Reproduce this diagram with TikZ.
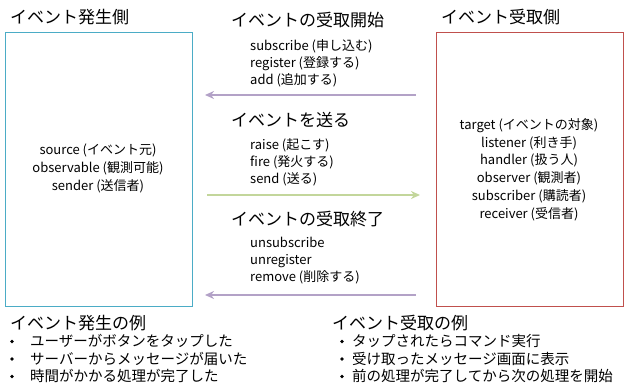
\documentclass[tikz,border=0pt]{standalone}
\usepackage{fontspec}
\setmainfont{Noto Sans CJK JP}
\usetikzlibrary{arrows.meta}
\definecolor{srccol}{RGB}{75,172,198}
\definecolor{rcvcol}{RGB}{192,80,77}
\definecolor{purp}{RGB}{179,162,199}
\definecolor{grn}{RGB}{195,214,155}
\tikzset{
  sidebox/.style={draw=#1, line width=1pt, inner sep=0pt, minimum width=187pt, minimum height=274pt, anchor=north west},
  bigtitle/.style={font=\fontsize{17}{20}\selectfont, inner sep=0pt, anchor=west},
  smalltext/.style={font=\fontsize{13}{17}\selectfont, inner sep=0pt, align=left, anchor=west},
  centertext/.style={font=\fontsize{13}{17.8}\selectfont, inner sep=0pt, align=center},
  itemtext/.style={font=\fontsize{14.5}{17.5}\selectfont, inner sep=0pt, anchor=west},
  bulletmark/.style={circle, fill=black, inner sep=0pt, minimum size=3.6pt},
  flow/.style={line width=2pt, -{Stealth[length=9pt,width=8pt]}},
}
\begin{document}
\begin{tikzpicture}[x=1pt,y=-1pt]
\useasboundingbox (0,0) rectangle (630,390);
% boxes
\node[sidebox=srccol] (src) at (5,32) {};
\node[sidebox=rcvcol] (rcv) at (436,32) {};
% box titles
\node[bigtitle] (srct) at (10,17) {イベント発生側};
\node[bigtitle] (rcvt) at (441,17) {イベント受取側};
% box contents
\node[centertext] (srctext) at (98,168.5) {source (イベント元)\\observable (観測可能)\\sender (送信者)};
\node[centertext] (rcvtext) at (529,169.5) {target (イベントの対象)\\listener (利き手)\\handler (扱う人)\\observer (観測者)\\subscriber (購読者)\\receiver (受信者)};
% middle blocks
\node[bigtitle] (m1t) at (231,20) {イベントの受取開始};
\node[smalltext] (m1) at (250,63) {subscribe (申し込む)\\register (登録する)\\add (追加する)};
\node[bigtitle] (m2t) at (231,120) {イベントを送る};
\node[smalltext] (m2) at (250,162) {raise (起こす)\\fire (発火する)\\send (送る)};
\node[bigtitle] (m3t) at (231,219) {イベントの受取終了};
\node[smalltext] (m3) at (250,261) {unsubscribe\\unregister\\remove (削除する)};
% arrows
\coordinate (a1s) at (416,95);
\coordinate (a1e) at (205,95);
\coordinate (a2s) at (207,195);
\coordinate (a2e) at (420,195);
\coordinate (a3s) at (416,295);
\coordinate (a3e) at (205,295);
\draw[flow, draw=purp] (a1s) -- (a1e);
\draw[flow, draw=grn] (a2s) -- (a2e);
\draw[flow, draw=purp] (a3s) -- (a3e);
% examples
\node[bigtitle] (ex1t) at (10,323) {イベント発生の例};
\node[bulletmark] (b11) at (12,341.5) {};
\node[itemtext] (e11) at (30,341) {ユーザーがボタンをタップした};
\node[bulletmark] (b12) at (12,359) {};
\node[itemtext] (e12) at (30,358.5) {サーバーからメッセージが届いた};
\node[bulletmark] (b13) at (12,376.5) {};
\node[itemtext] (e13) at (30,376) {時間がかかる処理が完了した};
\node[bigtitle] (ex2t) at (332,323) {イベント受取の例};
\node[bulletmark] (b21) at (342,341.5) {};
\node[itemtext] (e21) at (352,341) {タップされたらコマンド実行};
\node[bulletmark] (b22) at (342,359) {};
\node[itemtext] (e22) at (352,358.5) {受け取ったメッセージ画面に表示};
\node[bulletmark] (b23) at (342,376.5) {};
\node[itemtext] (e23) at (352,376) {前の処理が完了してから次の処理を開始};
\end{tikzpicture}
\end{document}
